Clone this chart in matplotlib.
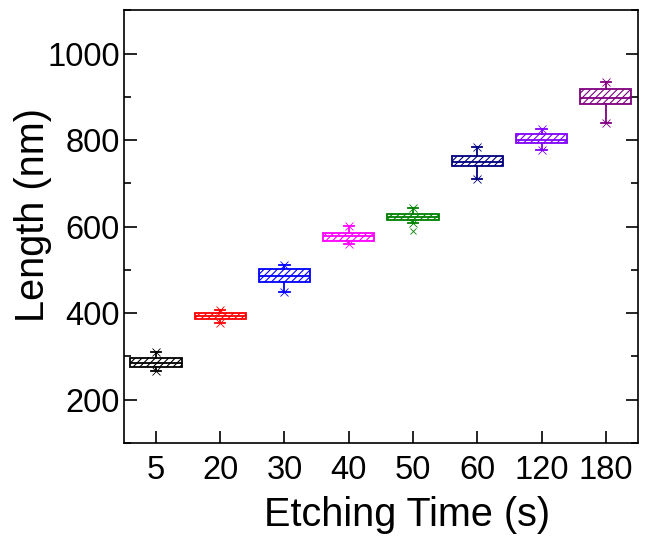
import matplotlib
matplotlib.use("Agg")
import matplotlib.pyplot as plt
from matplotlib.ticker import MultipleLocator

times = ["5", "20", "30", "40", "50", "60", "120", "180"]
q1 = [275, 387, 472, 566, 614, 739, 792, 883]
med = [284, 393, 486, 577, 621, 750, 801, 898]
q3 = [296, 399, 502, 586, 628, 762, 813, 918]
wlo = [266, 378, 449, 559, 609, 710, 778, 840]
whi = [310, 408, 511, 602, 643, 785, 826, 934]
outliers = [[], [], [], [], [589], [], [], []]
colors = ["#000000", "#ff0000", "#0000ff", "#ff00ff", "#008000", "#000080", "#8000ff", "#800080"]

plt.rcParams['font.family'] = ['Liberation Sans', 'DejaVu Sans']
plt.rcParams['hatch.linewidth'] = 0.8

fig = plt.figure(figsize=(6.45, 5.4), dpi=100)
ax = fig.add_axes([0.192, 0.180, 0.797, 0.801])

pos = list(range(1, len(times) + 1))
for i, p in enumerate(pos):
    c = colors[i]
    st = [dict(med=med[i], q1=q1[i], q3=q3[i], whislo=wlo[i], whishi=whi[i], fliers=outliers[i])]
    ax.bxp(st, positions=[p], widths=0.8, patch_artist=True, showfliers=True,
           boxprops=dict(facecolor="white", edgecolor=c, linewidth=1.3, hatch="/////"),
           medianprops=dict(color=c, linewidth=1.3),
           whiskerprops=dict(color=c, linewidth=1.3),
           capprops=dict(color=c, linewidth=1.3),
           capwidths=0.16,
           flierprops=dict(marker="x", markeredgecolor=c, markersize=5, markeredgewidth=0.6))
    ax.plot([p, p], [wlo[i], whi[i]], "x", color=c, markersize=6, markeredgewidth=0.6)

ax.set_xlim(0.5, 8.5)
ax.set_ylim(100, 1100)
ax.set_xticks(pos)
ax.set_xticklabels(times)
ax.yaxis.set_major_locator(MultipleLocator(200))
ax.yaxis.set_minor_locator(MultipleLocator(100))
ax.tick_params(axis="both", which="major", direction="in", length=9, width=1.2, labelsize=23.5)
ax.tick_params(axis="y", which="both", right=True)
ax.tick_params(axis="y", which="minor", direction="in", length=5, width=1.2)
ax.tick_params(axis="y", which="major", pad=3)
ax.tick_params(axis="x", which="major", pad=9)
for s in ax.spines.values():
    s.set_linewidth(1.2)

ax.set_xlabel("Etching Time (s)", fontsize=28.5)
ax.set_ylabel("Length (nm)", fontsize=28.5)
ax.xaxis.set_label_coords(0.55, -0.122)
ax.yaxis.set_label_coords(-0.14, 0.527)

fig.savefig("out.png", dpi=100)
